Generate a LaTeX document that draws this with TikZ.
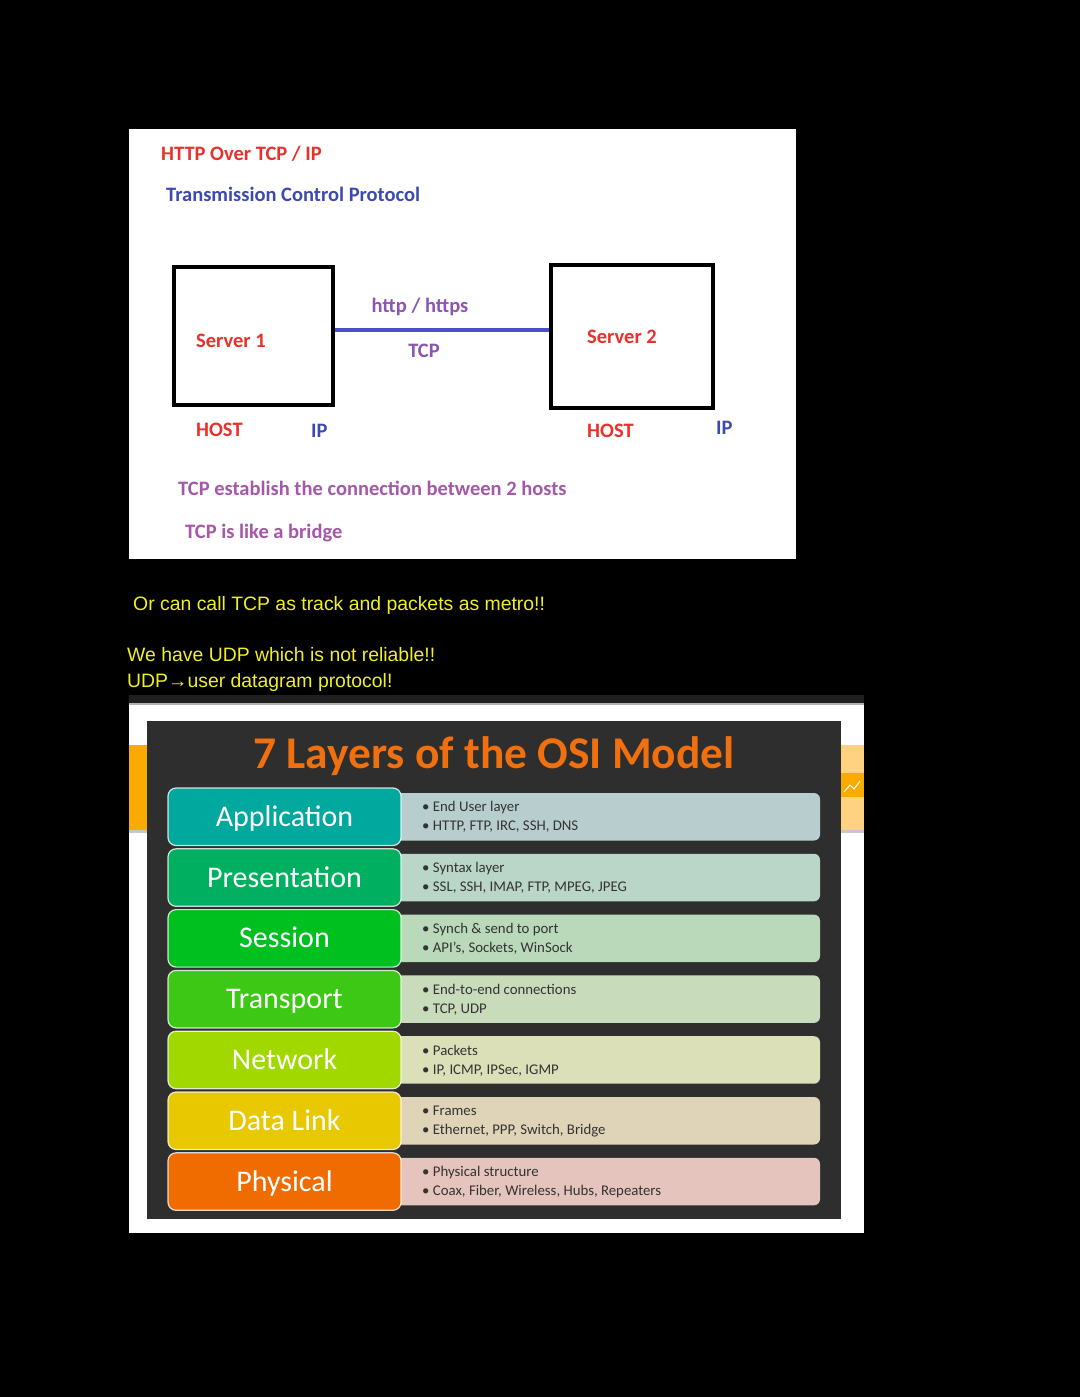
\documentclass[tikz,border=0pt]{standalone}
\usepackage{fontspec}
\setmainfont{Carlito}
\newfontfamily\notefont{Liberation Sans}
\definecolor{srvred}{RGB}{232,49,42}
\definecolor{tcpblue}{RGB}{60,74,176}
\definecolor{linkblue}{RGB}{75,80,200}
\definecolor{tcppurple}{RGB}{140,85,180}
\definecolor{notepurple}{RGB}{164,88,168}
\definecolor{noteyellow}{RGB}{240,240,40}
\definecolor{osibg}{RGB}{46,46,46}
\definecolor{osiorange}{RGB}{240,112,16}
\definecolor{bandorange}{RGB}{249,171,0}
\definecolor{bandlight}{RGB}{255,210,130}
\definecolor{appD}{RGB}{0,168,157}
\definecolor{appL}{RGB}{184,206,206}
\definecolor{preD}{RGB}{0,176,96}
\definecolor{preL}{RGB}{186,214,200}
\definecolor{sesD}{RGB}{0,192,32}
\definecolor{sesL}{RGB}{186,216,186}
\definecolor{traD}{RGB}{60,200,20}
\definecolor{traL}{RGB}{200,220,188}
\definecolor{netD}{RGB}{160,216,0}
\definecolor{netL}{RGB}{220,224,184}
\definecolor{datD}{RGB}{232,200,0}
\definecolor{datL}{RGB}{224,212,184}
\definecolor{phyD}{RGB}{240,108,0}
\definecolor{phyL}{RGB}{228,196,188}
\tikzset{
  hdr/.style={anchor=base west, inner sep=0pt, font=\bfseries\fontsize{20.5}{24}\selectfont},
  yel/.style={anchor=base west, inner sep=0pt, text=noteyellow, font=\notefont\fontsize{19.4}{23}\selectfont},
  hostbox/.style={draw=black, line width=3.5pt},
  layerbox/.style={rounded corners=8pt, draw=white, draw opacity=0.8, line width=1.2pt, minimum width=233pt, minimum height=57.5pt, inner sep=0pt, text height=19pt, text depth=0pt, text=white, font=\fontsize{30}{34}\selectfont},
  infobox/.style={rounded corners=6pt, minimum width=425pt, minimum height=47.5pt, inner sep=0pt},
  infotext/.style={anchor=base west, inner sep=0pt, text=black!80, font=\fontsize{14.8}{17}\selectfont}
}
\begin{document}
\begin{tikzpicture}[x=1pt,y=-1pt]
  \fill[black] (0,0) rectangle (1080,1397);
  \useasboundingbox (0,0) rectangle (1080,1397);

  % TCP slide
  \fill[white] (129,129) rectangle (796,559);
  \node[hdr, text=srvred] (ttl) at (161,160.5) {HTTP Over TCP / IP};
  \node[hdr, text=tcpblue] (sub) at (166,201.5) {Transmission Control Protocol};
  \node[hostbox, minimum width=159pt, minimum height=138pt] (hostA) at (253.5,336) {};
  \node[hostbox, minimum width=162pt, minimum height=143pt] (hostB) at (632,336.5) {};
  \draw[linkblue, line width=4pt] ([yshift=6pt]hostA.east) -- ([yshift=6.5pt]hostB.west);
  \node[hdr, anchor=base, text=tcppurple] (proto) at (420,312) {http / https};
  \node[hdr, anchor=base, text=tcppurple] (tcp) at (424,357.5) {TCP};
  \node[hdr, text=srvred] (srvA) at (196,347.5) {Server 1};
  \node[hdr, text=srvred] (srvB) at (587,343.5) {Server 2};
  \node[hdr, text=srvred] (hostlblA) at (196,436.5) {HOST};
  \node[hdr, text=tcpblue] (ipA) at (311,437.5) {IP};
  \node[hdr, text=srvred] (hostlblB) at (587,437.5) {HOST};
  \node[hdr, text=tcpblue] (ipB) at (716,434.5) {IP};
  \node[hdr, text=notepurple] (est) at (178,495.5) {TCP establish the connection between 2 hosts};
  \node[hdr, text=notepurple] (brg) at (185,538.5) {TCP is like a bridge};

  % notes
  \node[yel] (metro) at (133,610) {Or can call TCP as track and packets as metro!!};
  \node[yel] (udp) at (127,661) {We have UDP which is not reliable!!};
  \node[yel] (udpdef) at (127,687) {UDP→user datagram protocol!};

  % OSI slide
  \fill[white] (129,695) rectangle (864,1233);
  \fill[black!88] (129,695) rectangle (864,703);
  \fill[black!30] (129,703) rectangle (864,705);
  \fill[bandorange] (129,745) rectangle (147,830);
  \fill[black!22] (129,830) rectangle (147,833);
  \fill[bandlight] (841,745) rectangle (864,830);
  \fill[black!22] (841,830) rectangle (864,833);
  \fill[bandorange] (841,773) rectangle (864,797);
  \draw[white, line width=1pt] (844,792) -- (850,785) -- (854,789) -- (860,781);
  \fill[osibg] (147,721) rectangle (841,1219);
  \node[anchor=base, inner sep=0pt, text=osiorange, font=\bfseries\fontsize{45.4}{50}\selectfont] (osi) at (494,768) {7 Layers of the OSI Model};
  \foreach \i/\nm/\dk/\lt/\la/\lb in {
      0/Application/appD/appL/{End User layer}/{HTTP, FTP, IRC, SSH, DNS},
      1/Presentation/preD/preL/{Syntax layer}/{SSL, SSH, IMAP, FTP, MPEG, JPEG},
      2/Session/sesD/sesL/{Synch \& send to port}/{API’s, Sockets, WinSock},
      3/Transport/traD/traL/{End-to-end connections}/{TCP, UDP},
      4/Network/netD/netL/{Packets}/{IP, ICMP, IPSec, IGMP},
      5/Data Link/datD/datL/{Frames}/{Ethernet, PPP, Switch, Bridge},
      6/Physical/phyD/phyL/{Physical structure}/{Coax, Fiber, Wireless, Hubs, Repeaters}} {
    \pgfmathsetmacro\rc{816.75+60.8*\i}
    \node[infobox, fill=\lt] (inf\i) at (607.5,\rc) {};
    \node[layerbox, fill=\dk] (lay\i) at (284.5,\rc) {\nm};
    \node[infotext] (infa\i) at (422,\rc-4.8) {• \la};
    \node[infotext] (infb\i) at (422,\rc+14.2) {• \lb};
  }
\end{tikzpicture}
\end{document}
